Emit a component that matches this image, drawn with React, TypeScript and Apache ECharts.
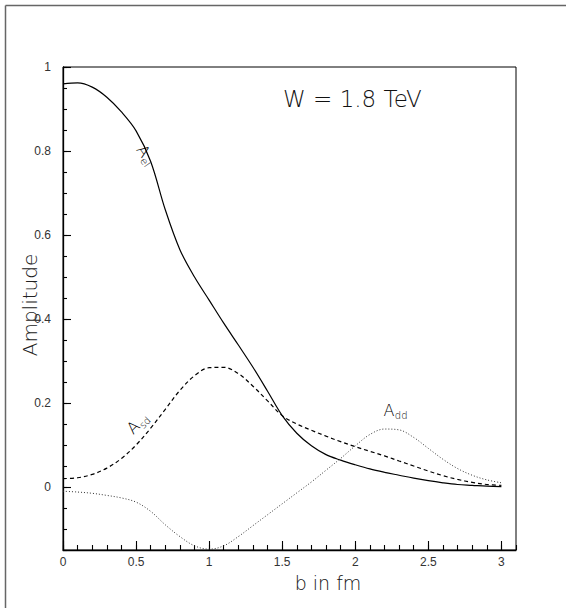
import React, { useEffect, useRef } from "react";
import * as echarts from "echarts";

// impact parameter b (fm)
const B = [0, 0.1, 0.2, 0.3, 0.4, 0.5, 0.6, 0.7, 0.8, 0.9, 1.0, 1.1, 1.2, 1.3, 1.4, 1.5, 1.6, 1.7, 1.8, 1.9, 2.0, 2.1, 2.2, 2.3, 2.4, 2.5, 2.6, 2.7, 2.8, 2.9, 3.0];
// elastic amplitude (solid)
const A_EL = [0.960, 0.962, 0.952, 0.928, 0.893, 0.848, 0.775, 0.660, 0.565, 0.500, 0.445, 0.390, 0.338, 0.285, 0.228, 0.170, 0.128, 0.098, 0.077, 0.064, 0.053, 0.043, 0.035, 0.028, 0.021, 0.015, 0.010, 0.006, 0.004, 0.002, 0.001];
// single diffraction amplitude (dashed)
const A_SD = [0.020, 0.022, 0.030, 0.045, 0.068, 0.100, 0.140, 0.185, 0.230, 0.265, 0.284, 0.285, 0.270, 0.240, 0.205, 0.170, 0.150, 0.135, 0.121, 0.108, 0.096, 0.085, 0.074, 0.062, 0.050, 0.038, 0.027, 0.018, 0.011, 0.006, 0.004];
// double diffraction amplitude (dotted)
const A_DD = [-0.010, -0.012, -0.015, -0.020, -0.026, -0.036, -0.058, -0.090, -0.118, -0.140, -0.148, -0.140, -0.118, -0.092, -0.066, -0.040, -0.014, 0.012, 0.040, 0.068, 0.098, 0.125, 0.138, 0.136, 0.118, 0.092, 0.066, 0.044, 0.028, 0.017, 0.010];

const X_TICKS = [0, 0.5, 1, 1.5, 2, 2.5, 3];
const Y_TICKS = [0, 0.2, 0.4, 0.6, 0.8, 1];

const X_MIN = 0;
const X_MAX = 3.1;
const Y_MIN = -0.15;
const Y_MAX = 1;

const TITLE = "W = 1.8 TeV";
const X_NAME = "b in fm";
const Y_NAME = "Amplitude";

// curve labels: [main, subscript, b, amplitude, rotation (deg)]
const CURVE_LABELS: [string, string, number, number, number][] = [
  ["A", "el", 0.55, 0.80, -55],
  ["A", "sd", 0.48, 0.142, 45],
  ["A", "dd", 2.23, 0.182, 0],
];

const FONT = "'Liberation Sans', Arial, sans-serif";
const THIN = "'DejaVu Sans', 'Liberation Sans', sans-serif";

export default function App() {
  const ref = useRef<HTMLDivElement>(null);

  useEffect(() => {
    document.body.style.margin = "0";
    const chart = echarts.init(ref.current!, null, { renderer: "svg" });
    const pair = (arr: number[]) => B.map((b, i) => [b, arr[i]]);

    const minorX: number[] = [];
    for (let i = 0; i <= 31; i++) minorX.push(Math.round(i) / 10);
    const minorY: number[] = [];
    for (let i = -3; i <= 20; i++) minorY.push(Math.round(i * 5) / 100);

    const tickLine = { color: "#000", width: 1.1 };

    chart.setOption({
      animation: false,
      grid: {
        left: 63,
        top: 67,
        width: 453,
        height: 483,
        show: true,
        borderColor: "#000",
        borderWidth: 1,
        backgroundColor: "transparent",
      },
      xAxis: [
        {
          type: "value",
          min: X_MIN,
          max: X_MAX,
          position: "bottom",
          axisLine: { show: true, onZero: false, lineStyle: { color: "#000", width: 1.3 } },
          axisTick: { show: true, inside: true, length: 9, customValues: X_TICKS, lineStyle: tickLine },
          axisLabel: { customValues: X_TICKS, color: "#333", fontSize: 12, fontFamily: FONT, margin: 6 },
          splitLine: { show: false },
        },
        {
          type: "value",
          min: X_MIN,
          max: X_MAX,
          position: "bottom",
          axisLine: { show: false, onZero: false },
          axisTick: { show: true, inside: true, length: 5, customValues: minorX, lineStyle: tickLine },
          axisLabel: { show: false },
          splitLine: { show: false },
        },
      ],
      yAxis: [
        {
          type: "value",
          min: Y_MIN,
          max: Y_MAX,
          position: "left",
          axisLine: { show: true, onZero: false, lineStyle: { color: "#000", width: 1.3 } },
          axisTick: { show: true, inside: true, length: 8, customValues: Y_TICKS, lineStyle: tickLine },
          axisLabel: { customValues: Y_TICKS, color: "#333", fontSize: 12, fontFamily: FONT, margin: 12 },
          splitLine: { show: false },
        },
        {
          type: "value",
          min: Y_MIN,
          max: Y_MAX,
          position: "left",
          axisLine: { show: false, onZero: false },
          axisTick: { show: true, inside: true, length: 4, customValues: minorY, lineStyle: tickLine },
          axisLabel: { show: false },
          splitLine: { show: false },
        },
      ],
      series: [
        {
          name: "A_el",
          type: "line",
          data: pair(A_EL),
          smooth: 0.35,
          symbol: "none",
          lineStyle: { color: "#000", width: 1.2, type: "solid" },
        },
        {
          name: "A_sd",
          type: "line",
          data: pair(A_SD),
          smooth: 0.35,
          symbol: "none",
          lineStyle: { color: "#000", width: 1.2, type: [4, 3] },
        },
        {
          name: "A_dd",
          type: "line",
          data: pair(A_DD),
          smooth: 0.35,
          symbol: "none",
          lineStyle: { color: "#333", width: 1, type: [1, 2] },
        },
      ],
    });

    const labelGroups = CURVE_LABELS.map(([main, sub, b, a, rot]) => {
      const p = chart.convertToPixel({ gridIndex: 0 }, [b, a]) as number[];
      return {
        type: "group",
        x: p[0],
        y: p[1],
        rotation: (rot * Math.PI) / 180,
        children: [
          {
            type: "text",
            x: 0,
            y: 0,
            style: { text: main, fontSize: 16, fontFamily: THIN, fontWeight: 200, fill: "#000", align: "center", verticalAlign: "middle" },
          },
          {
            type: "text",
            x: 6,
            y: 5,
            style: { text: sub, fontSize: 10, fontFamily: THIN, fontWeight: 200, fill: "#000", align: "left", verticalAlign: "middle" },
          },
        ],
      };
    });

    chart.setOption({
      graphic: [
        { type: "line", shape: { x1: 5.5, y1: 5.5, x2: 566, y2: 5.5 }, style: { stroke: "#666", lineWidth: 1.5 } },
        { type: "line", shape: { x1: 5.5, y1: 5.5, x2: 5.5, y2: 608 }, style: { stroke: "#666", lineWidth: 1.5 } },
        {
          type: "text",
          x: 283,
          y: 99,
          style: { text: TITLE, fontSize: 23, fontFamily: THIN, fontWeight: 200, fill: "#111", align: "left", verticalAlign: "middle" },
        },
        {
          type: "text",
          x: 328,
          y: 583,
          style: { text: X_NAME, fontSize: 19, fontFamily: THIN, fontWeight: 200, fill: "#111", align: "center", verticalAlign: "middle" },
        },
        {
          type: "text",
          x: 30,
          y: 305,
          rotation: Math.PI / 2,
          style: { text: Y_NAME, fontSize: 20, fontFamily: THIN, fontWeight: 200, fill: "#222", align: "center", verticalAlign: "middle" },
        },
        ...labelGroups,
      ],
    });

    return () => chart.dispose();
  }, []);

  return <div ref={ref} style={{ width: 566, height: 608 }} />;
}
